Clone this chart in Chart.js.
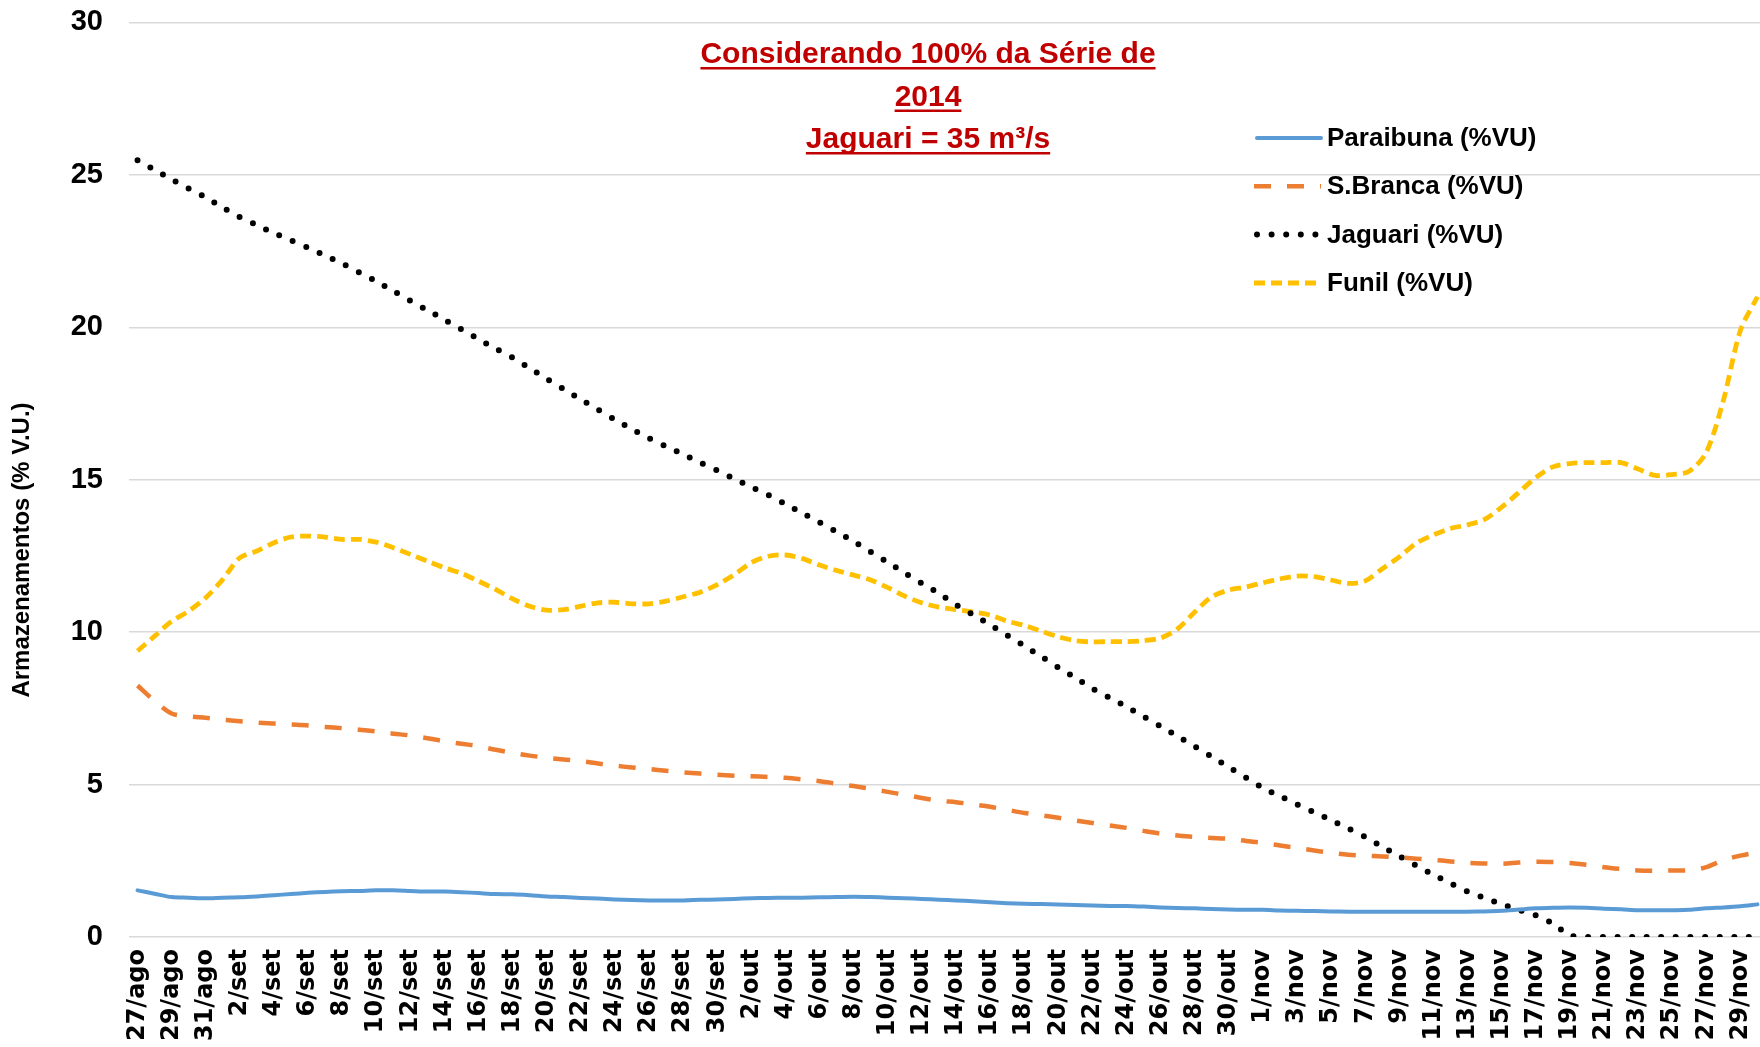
<!DOCTYPE html>
<html><head><meta charset="utf-8">
<script src="https://cdn.jsdelivr.net/npm/chart.js@4.4.0/dist/chart.umd.min.js"></script>
<style>
html,body{margin:0;padding:0;overflow:hidden;background:#fff}
#wrap{position:relative;width:1766px;height:1047px}
</style></head>
<body><div id="wrap"><canvas id="c"></canvas></div>
<script>
const categories = ['27/ago','28/ago','29/ago','30/ago','31/ago',
'1/set','2/set','3/set','4/set','5/set','6/set','7/set','8/set','9/set','10/set','11/set','12/set','13/set','14/set','15/set','16/set','17/set','18/set','19/set','20/set','21/set','22/set','23/set','24/set','25/set','26/set','27/set','28/set','29/set','30/set',
'1/out','2/out','3/out','4/out','5/out','6/out','7/out','8/out','9/out','10/out','11/out','12/out','13/out','14/out','15/out','16/out','17/out','18/out','19/out','20/out','21/out','22/out','23/out','24/out','25/out','26/out','27/out','28/out','29/out','30/out','31/out',
'1/nov','2/nov','3/nov','4/nov','5/nov','6/nov','7/nov','8/nov','9/nov','10/nov','11/nov','12/nov','13/nov','14/nov','15/nov','16/nov','17/nov','18/nov','19/nov','20/nov','21/nov','22/nov','23/nov','24/nov','25/nov','26/nov','27/nov','28/nov','29/nov','30/nov'];

const paraibuna = [1.53,1.42,1.31,1.29,1.27,1.29,1.30,1.33,1.37,1.41,1.45,1.48,1.50,1.51,1.53,1.53,1.51,1.49,1.49,1.47,
1.44,1.41,1.40,1.37,1.33,1.31,1.28,1.26,1.23,1.21,1.20,1.20,1.20,1.22,1.23,1.25,1.27,1.28,1.29,1.29,
1.30,1.31,1.32,1.31,1.29,1.27,1.25,1.22,1.20,1.17,1.14,1.11,1.09,1.08,1.07,1.05,1.03,1.02,1.02,1.00,
0.97,0.95,0.94,0.92,0.90,0.89,0.89,0.87,0.86,0.85,0.84,0.83,0.83,0.83,0.83,0.83,0.83,0.83,0.83,0.84,
0.86,0.90,0.94,0.96,0.97,0.96,0.93,0.91,0.88,0.88,0.88,0.89,0.94,0.97,1.01,1.07];

const sBranca = [8.25,7.74,7.33,7.24,7.19,7.13,7.08,7.03,7.00,6.97,6.94,6.89,6.85,6.80,6.74,6.67,6.61,6.52,6.42,6.34,
6.26,6.14,6.04,5.95,5.88,5.82,5.77,5.69,5.62,5.56,5.51,5.45,5.40,5.36,5.32,5.29,5.27,5.25,5.22,5.17,
5.11,5.03,4.95,4.86,4.76,4.66,4.56,4.47,4.42,4.35,4.27,4.17,4.07,3.99,3.91,3.82,3.74,3.66,3.58,3.48,
3.39,3.33,3.28,3.25,3.22,3.15,3.09,3.00,2.92,2.84,2.76,2.70,2.67,2.64,2.61,2.57,2.53,2.48,2.43,2.41,
2.40,2.44,2.47,2.46,2.43,2.37,2.29,2.23,2.18,2.17,2.18,2.19,2.29,2.52,2.67,2.78];

const jaguari = [25.48,25.16,24.85,24.55,24.26,23.93,23.61,23.35,23.09,22.85,22.61,22.35,22.09,21.80,21.51,21.19,20.87,20.56,20.25,19.93,
19.61,19.30,19.00,18.66,18.31,17.97,17.63,17.30,16.97,16.66,16.36,16.09,15.83,15.56,15.30,15.03,14.76,14.50,14.20,13.90,
13.60,13.29,12.98,12.63,12.29,11.94,11.60,11.27,10.90,10.57,10.24,9.90,9.55,9.20,8.84,8.50,8.15,7.85,7.55,7.23,
6.91,6.58,6.25,5.91,5.57,5.23,4.89,4.62,4.35,4.09,3.83,3.56,3.28,2.96,2.65,2.34,2.04,1.76,1.49,1.28,
1.08,0.89,0.71,0.44,0.05,0,0,0,0,0,0,0,0,0,0,0];

const funil = [9.38,9.87,10.36,10.69,11.13,11.73,12.44,12.66,12.93,13.12,13.15,13.12,13.04,13.04,12.95,12.77,12.55,12.33,12.11,11.93,
11.67,11.40,11.09,10.85,10.72,10.74,10.85,10.96,10.98,10.93,10.93,11.02,11.16,11.31,11.56,11.89,12.28,12.49,12.53,12.41,
12.20,12.02,11.87,11.71,11.46,11.18,10.96,10.82,10.74,10.66,10.56,10.36,10.22,10.03,9.85,9.72,9.68,9.69,9.69,9.72,
9.81,10.11,10.66,11.16,11.38,11.48,11.62,11.75,11.84,11.82,11.71,11.60,11.68,12.08,12.47,12.92,13.19,13.40,13.52,13.70,
14.10,14.58,15.07,15.42,15.53,15.56,15.56,15.56,15.35,15.14,15.17,15.28,15.90,17.60,19.90,21.00];

const seriesNames = ['Paraibuna (%VU)','S.Branca (%VU)','Jaguari (%VU)','Funil (%VU)'];
const yTicks = [0,5,10,15,20,25,30];
const titleLines = ['Considerando 100% da Série de','2014','Jaguari = 35 m³/s'];
const yAxisTitle = 'Armazenamentos (% V.U.)';

const overlay = {
  id: 'overlay',
  afterDraw(chart) {
    const ctx = chart.ctx;
    ctx.save();
    // title
    ctx.font = 'bold 30px "Liberation Sans", Arial, sans-serif';
    ctx.fillStyle = '#C00000';
    ctx.textAlign = 'center';
    ctx.textBaseline = 'alphabetic';
    const tx = 928, baseY = [63, 105.5, 148];
    titleLines.forEach((t, k) => {
      ctx.fillText(t, tx, baseY[k]);
      const w = ctx.measureText(t).width;
      ctx.fillRect(tx - w / 2, baseY[k] + 4, w, 2.5);
    });
    // legend
    const rows = [138, 186.3, 234.6, 283];
    const x0 = 1254, x1 = 1321;
    chart.data.datasets.forEach((ds, k) => {
      const y = rows[k];
      ctx.save();
      ctx.strokeStyle = ds.borderColor;
      ctx.lineWidth = ds.borderWidth;
      ctx.lineCap = ds.borderCapStyle || 'butt';
      ctx.setLineDash(ds.borderDash || []);
      ctx.beginPath();
      const off = ds.borderCapStyle === 'round' ? 3 : 0;
      ctx.moveTo(x0 + off, y);
      ctx.lineTo(x1, y);
      ctx.stroke();
      ctx.restore();
      ctx.font = 'bold 26px "Liberation Sans", Arial, sans-serif';
      ctx.fillStyle = '#000';
      ctx.textAlign = 'left';
      ctx.textBaseline = 'middle';
      ctx.fillText(ds.label, 1327, y + 1);
    });
    // y axis title
    ctx.translate(22, 550);
    ctx.rotate(-Math.PI / 2);
    ctx.font = 'bold 24px "Liberation Sans", Arial, sans-serif';
    ctx.fillStyle = '#000';
    ctx.textAlign = 'center';
    ctx.textBaseline = 'middle';
    ctx.fillText(yAxisTitle, 0, 0);
    ctx.restore();
  }
};

function noPad(scale) {
  scale.paddingLeft = 0; scale.paddingRight = 0; scale.paddingTop = 0; scale.paddingBottom = 0;
}

new Chart(document.getElementById('c'), {
  type: 'line',
  data: {
    labels: categories,
    datasets: [
      {label: seriesNames[0], data: paraibuna, borderColor: '#5B9BD5', borderWidth: 4, pointRadius: 0, tension: 0.3, borderCapStyle: 'round'},
      {label: seriesNames[1], data: sBranca, borderColor: '#ED7D31', borderWidth: 4.5, pointRadius: 0, tension: 0.3, borderDash: [17, 16]},
      {label: seriesNames[2], data: jaguari, borderColor: '#000000', borderWidth: 6, pointRadius: 0, tension: 0.3, borderDash: [0, 14.6], borderCapStyle: 'round'},
      {label: seriesNames[3], data: funil, borderColor: '#FFC000', borderWidth: 4.8, pointRadius: 0, tension: 0.3, borderDash: [11, 6]}
    ]
  },
  options: {
    responsive: true,
    maintainAspectRatio: false,
    animation: false,
    layout: {autoPadding: false, padding: {left: 71, top: 22.4, right: 0, bottom: 0}},
    plugins: {legend: {display: false}, title: {display: false}, tooltip: {enabled: false}},
    scales: {
      x: {
        offset: true,
        grid: {display: false, drawTicks: false},
        border: {display: false},
        afterFit: s => { noPad(s); s.height = 110; },
        ticks: {
          autoSkip: false, maxRotation: 90, minRotation: 90, padding: 12, color: '#000',
          font: {family: 'DejaVu Sans', weight: 'bold', size: 24},
          callback: function (v, i) { return i % 2 === 0 ? this.getLabelForValue(v) : ''; }
        }
      },
      y: {
        min: 0, max: 30,
        afterBuildTicks: axis => { axis.ticks = yTicks.map(v => ({value: v})); },
        afterFit: s => { noPad(s); s.width = 58; },
        grid: {color: '#D9D9D9', lineWidth: 1.5, drawTicks: false},
        border: {display: false},
        ticks: {padding: 26, color: '#000', font: {family: 'Liberation Sans', weight: 'bold', size: 29}}
      }
    }
  },
  plugins: [overlay]
});
</script>
</body></html>
